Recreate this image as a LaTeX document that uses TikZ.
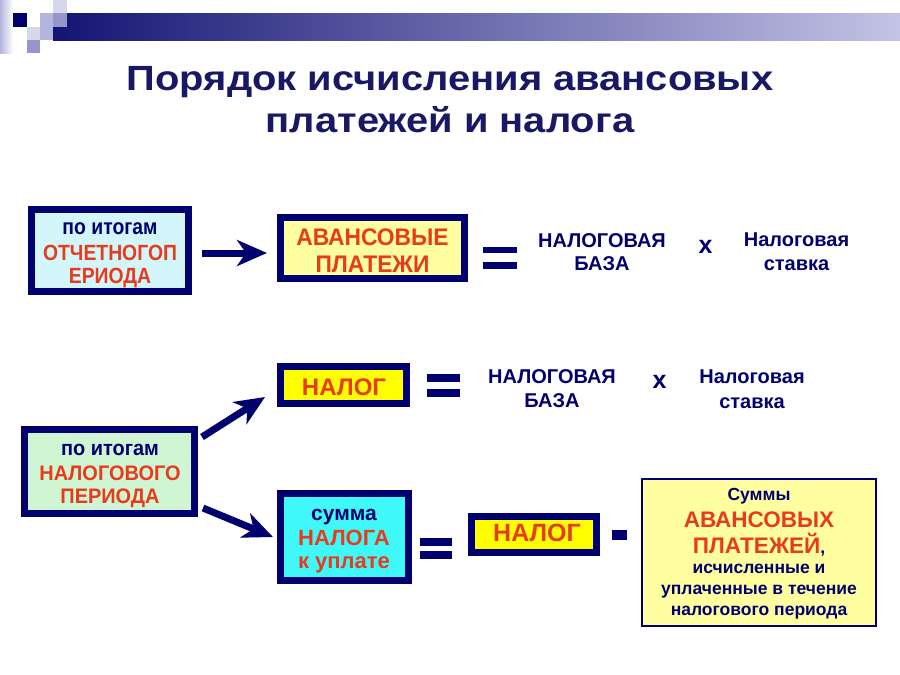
\documentclass[tikz,border=0pt]{standalone}
\usepackage{fontspec}
\setmainfont{Liberation Sans}
\newfontfamily\fNarrow{Liberation Sans}[FakeStretch=0.88]
\newfontfamily\fSemi{Liberation Sans}[FakeStretch=0.95]
\newfontfamily\fWide{Liberation Sans}[FakeStretch=1.14]
\usetikzlibrary{arrows.meta}
\definecolor{navy}{RGB}{0,0,110}
\definecolor{tred}{RGB}{232,58,28}
\definecolor{ttl}{RGB}{24,24,100}
\definecolor{fcyanl}{RGB}{210,246,250}
\definecolor{fyell}{RGB}{255,255,160}
\definecolor{fyel}{RGB}{255,255,0}
\definecolor{fgreen}{RGB}{208,245,210}
\definecolor{fcyan}{RGB}{64,248,248}
\definecolor{lav1}{RGB}{215,215,236}
\definecolor{lav2}{RGB}{180,180,222}
\definecolor{lav3}{RGB}{150,150,205}
\definecolor{barl}{RGB}{20,20,115}
\definecolor{barr}{RGB}{195,195,230}
\newcommand{\fsz}[2]{\fontsize{#1}{#2}\selectfont}
\begin{document}
\begin{tikzpicture}[x=1pt,y=-1pt,
  tbox/.style={draw=navy, line width=7pt, inner sep=0pt},
  btxt/.style={anchor=base, inner sep=0pt, text=tred, font=\bfseries},
  plain/.style={align=center, inner sep=0pt, text=navy},
  arr/.style={draw=navy, line width=7pt, -{Stealth[length=30pt,width=26pt,inset=9pt]}},
  eqbar/.style={fill=navy}]
\useasboundingbox (0,0) rectangle (900,675);
\fill[white] (0,0) rectangle (900,675);
% decoration
\shade[left color=lav2, right color=white] (0,0) rectangle (13,53);
\shade[left color=barl, right color=barr] (53,13) rectangle (900,40);
\fill[lav1] (53,0) rectangle (67,13);
\fill[lav3] (53,13) rectangle (67,27);
\fill[navy] (13,13) rectangle (27,27);
\fill[lav1] (27,27) rectangle (40,40);
\fill[lav2] (40,13) rectangle (53,40);
\fill[lav3] (27,40) rectangle (40,53);
% title
\node[font=\fWide\bfseries\fsz{35}{42}, text=ttl, align=center] (title) at (450,100)
  {Порядок исчисления авансовых\\платежей и налога};
% row 1
\node[tbox, fill=fcyanl, minimum width=157pt, minimum height=82pt] (b1) at (110,250.5) {};
\node[btxt, text=navy, font=\fNarrow\bfseries\fsz{22}{24}] (b1a) at (110,234) {по итогам};
\node[btxt, font=\fNarrow\bfseries\fsz{22}{24}] (b1b) at (110,260.5) {ОТЧЕТНОГОП};
\node[btxt, font=\fNarrow\bfseries\fsz{22}{24}] (b1c) at (110,283) {ЕРИОДА};
\node[tbox, fill=fyell, minimum width=184pt, minimum height=61pt] (av) at (372.5,248) {};
\node[btxt, font=\fSemi\bfseries\fsz{24}{27}] (ava) at (372.5,245) {АВАНСОВЫЕ};
\node[btxt, font=\fSemi\bfseries\fsz{24}{27}] (avb) at (372.5,272) {ПЛАТЕЖИ};
\draw[arr] ([shift={(10,2.5)}]b1.east) -- ([shift={(-10,5)}]av.west);
\fill[eqbar] (483,247) rectangle (517,253);
\fill[eqbar] (483,262) rectangle (517,269);
\node[plain, font=\bfseries\fsz{20}{23}] (nb1) at (602,252) {НАЛОГОВАЯ\\БАЗА};
\node[plain, font=\bfseries\fsz{25}{26}] (x1) at (705.5,247) {x};
\node[plain, font=\bfseries\fsz{20}{24}] (ns1) at (796.5,252) {Налоговая\\ставка};
% row 2
\node[tbox, fill=fyel, minimum width=126pt, minimum height=37pt] (n1) at (343.5,385) {};
\node[btxt, font=\bfseries\fsz{24}{27}] (n1t) at (344,395) {НАЛОГ};
\fill[eqbar] (427,374) rectangle (460,382);
\fill[eqbar] (427,389) rectangle (460,397);
\node[plain, font=\bfseries\fsz{20}{24}] (nb2) at (552,389) {НАЛОГОВАЯ\\БАЗА};
\node[plain, font=\bfseries\fsz{25}{26}] (x2) at (659.5,382) {x};
\node[plain, font=\bfseries\fsz{20}{25}] (ns2) at (752,389) {Налоговая\\ставка};
% row 3
\node[tbox, fill=fgreen, minimum width=170pt, minimum height=84pt] (lb) at (109.5,471.5) {};
\node[btxt, text=navy, font=\fSemi\bfseries\fsz{21}{24}] (lba) at (110,455) {по итогам};
\node[btxt, font=\fSemi\bfseries\fsz{21}{24}] (lbb) at (110,480) {НАЛОГОВОГО};
\node[btxt, font=\fSemi\bfseries\fsz{21}{24}] (lbc) at (110,503) {ПЕРИОДА};
\node[tbox, fill=fcyan, minimum width=128pt, minimum height=87pt] (sb) at (344.5,537) {};
\node[btxt, text=navy, font=\bfseries\fsz{21}{24}] (sba) at (344,520) {сумма};
\node[btxt, font=\bfseries\fsz{22}{24}] (sbb) at (344,545) {НАЛОГА};
\node[btxt, font=\bfseries\fsz{22}{24}] (sbc) at (344,568) {к уплате};
\node[tbox, fill=fyel, minimum width=125pt, minimum height=36pt] (n2) at (534,534.5) {};
\node[btxt, font=\bfseries\fsz{25}{27}] (n2t) at (537,541.5) {НАЛОГ};
\draw[arr] ([shift={(4,11)}]lb.north east) -- ([shift={(-12,-10)}]n1.south west);
\draw[arr] ([shift={(5,-9)}]lb.south east) -- ([shift={(-4,0)}]sb.west);
\fill[eqbar] (420,538) rectangle (452,546);
\fill[eqbar] (420,551) rectangle (452,559);
\fill[eqbar] (612,530) rectangle (627,540);
\node[draw=navy, line width=2pt, fill=fyell, minimum width=234pt, minimum height=147pt, inner sep=0pt] (big) at (759,552.5) {};
\node[btxt, text=navy, font=\bfseries\fsz{17.5}{20}] (s1) at (759,500) {Суммы};
\node[btxt, font=\bfseries\fsz{22.5}{26}] (s2) at (759,527) {АВАНСОВЫХ};
\node[btxt, font=\bfseries\fsz{22.5}{26}] (s3) at (759,553) {ПЛАТЕЖЕЙ\textcolor{navy}{\fsz{17.5}{20},}};
\node[btxt, text=navy, font=\bfseries\fsz{17.5}{20}] (s4) at (759,573) {исчисленные и};
\node[btxt, text=navy, font=\bfseries\fsz{17.5}{20}] (s5) at (759,594) {уплаченные в течение};
\node[btxt, text=navy, font=\bfseries\fsz{17.5}{20}] (s6) at (759,615) {налогового периода};
\end{tikzpicture}
\end{document}
